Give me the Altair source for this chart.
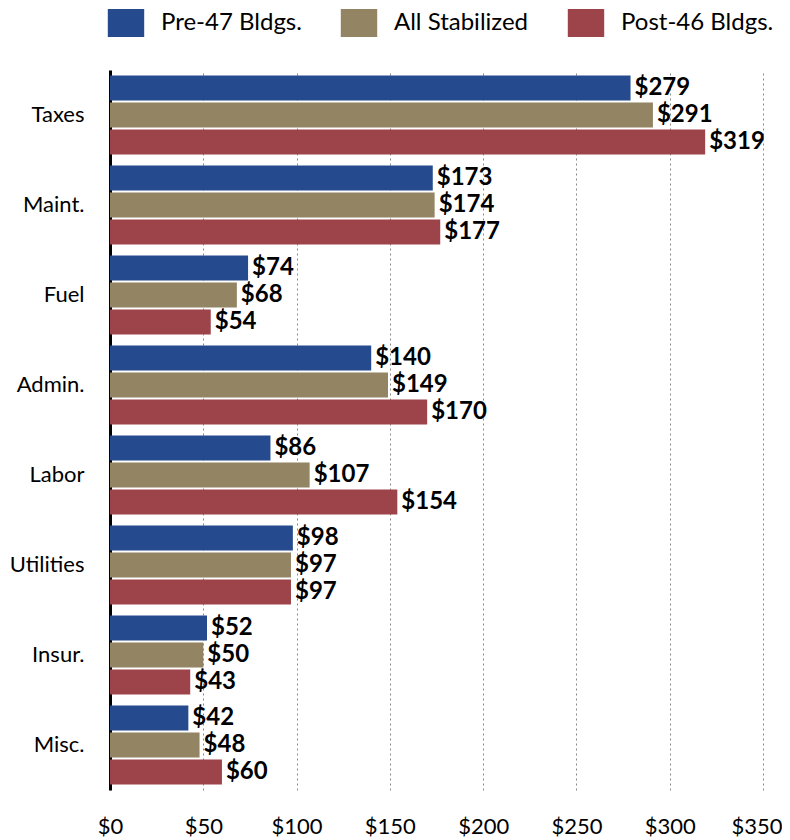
import altair as alt
import pandas as pd

categories = ["Taxes", "Maint.", "Fuel", "Admin.", "Labor", "Utilities", "Insur.", "Misc."]
series = ["Pre-47 Bldgs.", "All Stabilized", "Post-46 Bldgs."]
pre47 = [279, 173, 74, 140, 86, 98, 52, 42]
all_stab = [291, 174, 68, 149, 107, 97, 50, 48]
post46 = [319, 177, 54, 170, 154, 97, 43, 60]
colors = ["#254b8e", "#938463", "#9d444b"]
ticks = [0, 50, 100, 150, 200, 250, 300, 350]

rows = []
for s, vals in zip(series, [pre47, all_stab, post46]):
    for c, v in zip(categories, vals):
        rows.append({"category": c, "series": s, "value": v, "label": f"${v}"})
df = pd.DataFrame(rows)

FONT = "Lato"

y = alt.Y(
    "category:N", sort=categories,
    scale=alt.Scale(paddingInner=0.122, paddingOuter=0.061),
    axis=alt.Axis(title=None, domain=True, domainColor="black", domainWidth=3,
                  ticks=False, grid=False, labelFontSize=22, labelPadding=26,
                  labelColor="black", labelFont=FONT),
)
yoff = alt.YOffset("series:N", sort=series,
                   scale=alt.Scale(paddingInner=0.075, paddingOuter=0))
x = alt.X(
    "value:Q", scale=alt.Scale(domain=[0, 350], nice=False),
    axis=alt.Axis(values=ticks, labelExpr="'$' + datum.value", title=None,
                  domain=False, ticks=False, grid=True, gridDash=[2, 3],
                  gridColor="#888888", gridWidth=1, labelFontSize=22,
                  labelPadding=26, labelFlush=False, labelColor="black",
                  labelFont=FONT,
                  labelAlign={"condition": {"test": "datum.value == 350", "value": "right"}, "value": "center"},
                  labelOffset={"condition": {"test": "datum.value == 350", "value": 19}, "value": 0}),
)

color = alt.Color(
    "series:N", sort=series,
    scale=alt.Scale(domain=series, range=colors),
    legend=alt.Legend(
        title=None, orient="none", direction="horizontal", legendX=2, legendY=-61,
        padding=0, symbolType="M-1.3,-1H1.3V1H-1.3Z", symbolSize=784,
        symbolStrokeWidth=0, symbolOpacity=1, labelOffset=21, columnPadding=38,
        labelFontSize=24, labelFont=FONT, labelColor="black", labelLimit=400,
    ),
)

bars = alt.Chart(df).mark_bar().encode(x=x, y=y, yOffset=yoff, color=color)
text = alt.Chart(df).mark_text(
    align="left", baseline="middle", dx=4, fontWeight="bold", fontSize=24,
    font=FONT, color="black",
).encode(x=x, y=y, yOffset=yoff, text="label:N")

chart = alt.layer(bars, text).properties(
    width=653, height=720,
    autosize=alt.AutoSizeParams(type="none"),
    padding={"left": 102, "top": 62, "right": 19, "bottom": 50},
    background="white",
).configure_view(stroke=None)

chart.save("out.html", embed_options={"renderer": "svg", "actions": False})
